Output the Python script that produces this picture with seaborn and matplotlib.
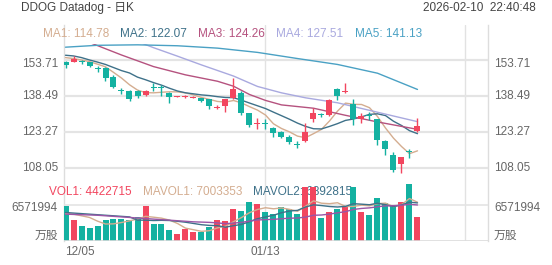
import numpy as np
import pandas as pd
import matplotlib
matplotlib.use("Agg")
import matplotlib.pyplot as plt
import seaborn as sns

# ---------------- data ----------------
dates = ['12/05', '12/08', '12/09', '12/10', '12/11', '12/12', '12/15', '12/16', '12/17', '12/18',
         '12/19', '12/22', '12/23', '12/24', '12/26', '12/29', '12/30', '12/31', '01/02', '01/05',
         '01/06', '01/07', '01/08', '01/09', '01/12', '01/13', '01/14', '01/15', '01/16', '01/20',
         '01/21', '01/22', '01/23', '01/26', '01/27', '01/28', '01/29', '01/30', '02/02', '02/03',
         '02/04', '02/05', '02/06', '02/09', '02/10']
opens = [152.9, 152.9, 152.9, 152.6, 150.0, 150.1, 146.5, 140.8, 140.5, 140.5,
         138.8, 142.0, 142.0, 139.8, 138.0, 138.1, 137.7, 137.4, 137.0, 133.2,
         134.1, 137.4, 139.8, 131.1, 126.4, 126.9, 124.9, 123.3, 121.2, 117.8,
         119.3, 128.5, 130.4, 130.3, 141.2, 140.0, 134.9, 128.6, 130.1, 128.6,
         119.3, 113.4, 109.6, 115.0, 123.7]
highs = [153.0, 155.3, 153.6, 152.8, 150.9, 150.5, 147.2, 141.9, 141.0, 141.0,
         141.0, 143.7, 143.0, 139.9, 138.4, 138.6, 138.2, 137.6, 137.2, 134.6,
         137.2, 145.8, 140.4, 131.3, 128.9, 128.6, 125.1, 123.6, 121.9, 119.3,
         126.8, 133.2, 131.3, 137.0, 141.9, 143.7, 137.1, 131.3, 131.8, 128.8,
         119.8, 114.6, 112.5, 115.8, 129.2]
lows = [150.3, 152.7, 151.9, 150.6, 148.6, 144.9, 141.9, 139.1, 136.4, 137.6,
        138.5, 140.6, 138.5, 135.3, 137.8, 137.5, 137.5, 135.9, 132.7, 132.8,
        131.7, 137.2, 130.5, 125.4, 124.4, 124.4, 121.2, 120.7, 117.9, 116.2,
        119.0, 127.5, 129.6, 130.0, 136.7, 139.5, 126.1, 127.0, 128.1, 117.6,
        113.4, 106.1, 105.9, 112.3, 123.3]
closes = [151.5, 154.0, 152.6, 151.2, 149.8, 145.9, 142.3, 140.6, 137.0, 138.5,
          140.5, 141.9, 141.8, 138.1, 138.2, 138.3, 137.9, 136.1, 134.1, 133.9,
          137.0, 141.2, 131.1, 126.1, 126.6, 126.6, 122.6, 121.2, 119.0, 117.6,
          123.3, 131.1, 130.3, 136.7, 138.4, 140.3, 128.5, 130.0, 129.9, 119.8,
          115.9, 107.1, 112.4, 114.8, 125.7]
volumes = [6440000, 3830000, 2790000, 2320000, 2740000, 3830000, 3960000, 4020000, 3830000, 4330000,
           6390000, 3160000, 3160000, 2010000, 1280000, 2140000, 1700000, 1700000, 2610000, 3830000,
           3650000, 5840000, 5480000, 7060000, 6750000, 5240000, 4870000, 6260000, 5790000, 4980000,
           9800000, 9800000, 4140000, 5350000, 5840000, 6390000, 9800000, 5350000, 4750000, 7800000,
           6880000, 6570000, 7170000, 10350000, 4422715]

# moving-average values before the window is complete
ma1_head = [154.6, 154.2, 153.6, 152.9]
ma2_head = [155.6, 155.3, 154.6, 153.6, 152.7, 151.7, 150.4, 149.1, 148.1]
# slower averages at these candle numbers
ma3_idx = [1, 4, 8, 12, 16, 20, 22, 24, 26, 28, 32, 36, 40, 45]
ma3_val = [166.0, 161.0, 155.7, 150.8, 147.3, 144.6, 142.5, 139.0, 136.5, 134.6, 133.2, 130.2, 127.4, 124.26]
ma4_idx = [1, 8, 12, 15, 18, 22, 25, 28, 31, 35, 40, 45]
ma4_val = [170.0, 164.0, 158.8, 155.2, 151.5, 146.8, 142.4, 139.7, 137.6, 135.5, 131.5, 127.51]
ma5_idx = [1, 5, 10, 15, 20, 25, 30, 35, 40, 45]
ma5_val = [159.0, 159.8, 160.0, 159.6, 158.6, 156.8, 154.2, 151.7, 148.0, 141.13]
mavol1_head = [5000000, 4900000, 4600000, 4300000]
mavol2_head = [5200000, 5100000, 5000000, 4900000, 4800000, 4700000, 4600000, 4500000, 4400000]
mavol3_head = [4900000, 4850000, 4800000, 4750000, 4700000, 4600000, 4500000, 4400000, 4300000,
               4200000, 4100000, 4000000, 3900000, 3800000, 3700000, 3600000, 3500000, 3450000, 3400000]

price_ticks = [153.71, 138.49, 123.27, 108.05]
price_tick_labels = ['153.71', '138.49', '123.27', '108.05']
vol_tick = 6571994
ma_labels = ['MA1: 114.78', 'MA2: 122.07', 'MA3: 124.26', 'MA4: 127.51', 'MA5: 141.13']
vol_labels = ['VOL1: 4422715', 'MAVOL1: 7003353', 'MAVOL2: 6892815']
date_ticks = ['12/05', '01/13']
title = 'DDOG Datadog - 日K'
stamp = '2026-02-10  22:40:48'
unit = '万股'

# ---------------- style ----------------
RED = '#f2465f'
GREEN = '#14b1a1'
MA_COLORS = ['#d4ad90', '#3e7189', '#b5527f', '#a9a9df', '#4aa1c4']
PURPLE = '#9a56a6'
GRID = '#e4e4e4'
TXT = '#666666'
FS = 8.5

sns.set_theme(style='white')
plt.rcParams['font.family'] = ['Liberation Sans', 'Noto Sans CJK SC', 'DejaVu Sans']

n = len(closes)
idx = np.arange(1, n + 1)
df = pd.DataFrame({'idx': idx, 'date': dates, 'open': opens, 'high': highs, 'low': lows,
                   'close': closes, 'vol': volumes})
df['dir'] = np.where(df['close'] >= df['open'], 'up', 'down')

ma1 = df['close'].rolling(5).mean().to_numpy()
ma1[:4] = ma1_head
ma2 = df['close'].rolling(10).mean().to_numpy()
ma2[:9] = ma2_head
mv1 = df['vol'].rolling(5).mean().to_numpy()
mv1[:4] = mavol1_head
mv2 = df['vol'].rolling(10).mean().to_numpy()
mv2[:9] = mavol2_head
mv3 = df['vol'].rolling(20).mean().to_numpy()
mv3[:19] = mavol3_head

W, H = 552, 265
fig = plt.figure(figsize=(W / 100, H / 100), dpi=100)

X0, X1 = 64, 488
c1_px, step = 65.5, 8.0
xl = (1 - (c1_px - X0) / step, 1 + (X1 - c1_px) / step)


def axes_px(top, bottom):
    return fig.add_axes([X0 / W, 1 - bottom / H, (X1 - X0) / W, (bottom - top) / H])


s = 15.22 / 36.0  # price per pixel
ref_y, ref_p = 59.7, 153.71

axf = axes_px(25, 241)
axf.set_xlim(*xl)
axf.set_ylim(0, 1)
axf.set_xticks([])
axf.set_yticks([])
for sp in ['top', 'bottom']:
    axf.spines[sp].set_visible(False)
for sp in ['left', 'right']:
    axf.spines[sp].set_color('#dddddd')
    axf.spines[sp].set_linewidth(1)
axf.patch.set_alpha(0)
for gx in [26, 51]:
    axf.axvline(gx, color='#e2e2e2', lw=1)

ax1 = axes_px(44, 178)
ax1.set_xlim(*xl)
ax1.set_ylim(ref_p - (178 - ref_y) * s, ref_p + (ref_y - 44) * s)
ax1.axis('off')
ax1.patch.set_alpha(0)
for p in price_ticks:
    ax1.axhline(p, color=GRID, lw=1.6, zorder=0)

# MA lines
sns.lineplot(x=idx, y=ma1, ax=ax1, color=MA_COLORS[0], lw=1, zorder=2)
sns.lineplot(x=idx, y=ma2, ax=ax1, color=MA_COLORS[1], lw=1, zorder=2)
sns.lineplot(x=ma3_idx, y=ma3_val, ax=ax1, color=MA_COLORS[2], lw=1, zorder=2)
sns.lineplot(x=ma4_idx, y=ma4_val, ax=ax1, color=MA_COLORS[3], lw=1, zorder=2)
sns.lineplot(x=ma5_idx, y=ma5_val, ax=ax1, color=MA_COLORS[4], lw=1, zorder=2)

# candles
cols = np.where(df['dir'] == 'up', RED, GREEN)
ax1.vlines(df['idx'], df['low'], df['high'], colors=cols, lw=1, zorder=3)
body_lo = np.minimum(df['open'], df['close'])
body_h = np.maximum(np.abs(df['close'] - df['open']), 0.35)
ax1.bar(df['idx'], body_h, bottom=body_lo, width=0.75, color=cols, zorder=4, linewidth=0)

# volume panel
ax2 = axes_px(178, 241)
vmax = (241 - 178) * vol_tick / 36.0
ax2.patch.set_alpha(0)
ax2.axhline(vol_tick, color=GRID, lw=1.2, zorder=0)
sns.barplot(data=df, x='idx', y='vol', hue='dir', palette={'up': RED, 'down': GREEN},
            native_scale=True, width=0.75, dodge=False, saturation=1, errorbar=None,
            legend=False, ax=ax2, linewidth=0, zorder=2)
sns.lineplot(x=idx, y=mv1, ax=ax2, color=MA_COLORS[0], lw=1, zorder=3)
sns.lineplot(x=idx, y=mv2, ax=ax2, color=MA_COLORS[1], lw=1, zorder=3)
sns.lineplot(x=idx, y=mv3, ax=ax2, color=PURPLE, lw=1, zorder=3)
ax2.set_xlim(*xl)
ax2.set_ylim(0, vmax)
ax2.axis('off')
ax2.axhline(0, color='#dcdcdc', lw=1.2, zorder=5)

# ---------------- text ----------------
def ftext(x, y, t, **kw):
    fig.text(x / W, 1 - y / H, t, **kw)


ftext(21, 8, title, fontsize=FS, color='#444444', va='center', ha='left')
ftext(536, 8, stamp, fontsize=FS, color='#444444', va='center', ha='right')

ma_x = [43, 120, 198, 276, 355]
for t, x, c in zip(ma_labels, ma_x, MA_COLORS):
    ftext(x, 34, t, fontsize=FS, color=c, va='center', ha='left')

# volume legend text sits underneath the bars, as in the original
vol_x = [49, 143, 253]
vol_cols = [RED, MA_COLORS[0], MA_COLORS[1]]
for t, x, c in zip(vol_labels, vol_x, vol_cols):
    ax2.text(x / W, 1 - 192 / H, t, transform=fig.transFigure, fontsize=FS, color=c,
             va='center', ha='left', zorder=1, clip_on=False)

for p, lab in zip(price_ticks, price_tick_labels):
    ypx = ref_y + (ref_p - p) / s
    if ypx < 62:
        ypx = 63.5
    ftext(58, ypx, lab, fontsize=FS, color=TXT, va='center', ha='right')
    ftext(494, ypx, lab, fontsize=FS, color=TXT, va='center', ha='left')

ftext(58, 208, f'{vol_tick}', fontsize=FS, color=TXT, va='center', ha='right')
ftext(494, 208, f'{vol_tick}', fontsize=FS, color=TXT, va='center', ha='left')
ftext(58, 236, unit, fontsize=FS, color=TXT, va='center', ha='right')
ftext(494, 236, unit, fontsize=FS, color=TXT, va='center', ha='left')

ftext(65, 252, date_ticks[0], fontsize=FS, color=TXT, va='center', ha='left')
d2 = dates.index(date_ticks[1]) + 1
ftext(X0 + (c1_px - X0) + (d2 - 1) * step, 252, date_ticks[1], fontsize=FS, color=TXT,
      va='center', ha='center')

fig.savefig('out.png', dpi=100)
